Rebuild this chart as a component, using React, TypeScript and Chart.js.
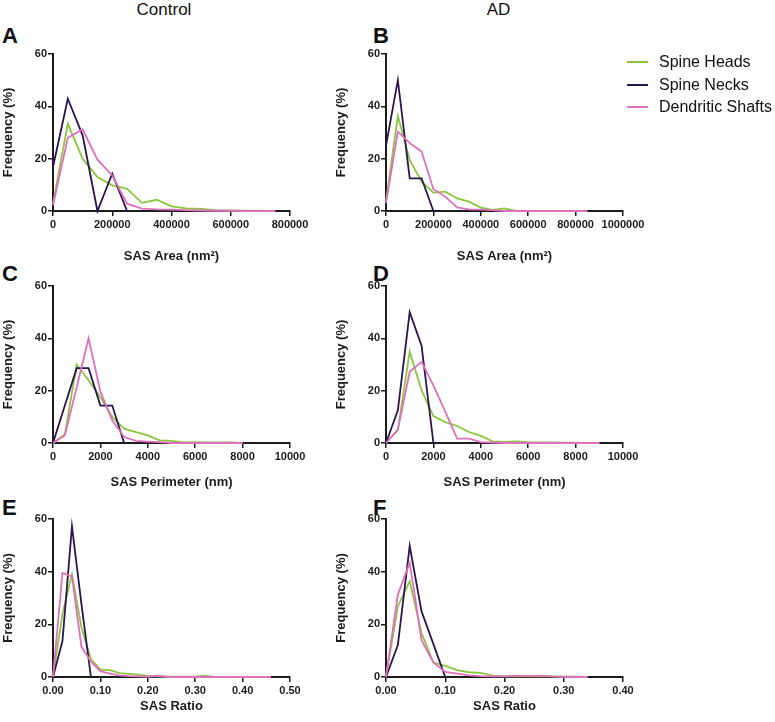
import React, { useEffect, useRef } from "react";
import { Chart, registerables } from "chart.js";

Chart.register(...registerables);

const FONT = "'Liberation Sans', Arial, Helvetica, sans-serif";
const SERIES = ["Spine Heads", "Spine Necks", "Dendritic Shafts"];
const COLORS = ["#8cc63f", "#2b1551", "#e06fbe"];
const COLUMN_TITLES = ["Control", "AD"];
const PANEL_LETTERS = ["A", "B", "C", "D", "E", "F"];
const Y_TITLE = "Frequency (%)";
const X_TITLES = ["SAS Area (nm\u00b2)", "SAS Perimeter (nm)", "SAS Ratio"];

// Panel A - Control, SAS Area
const AREA_CTRL_X = [0, 50000, 100000, 150000, 200000, 250000, 300000, 350000, 400000, 450000, 500000, 550000, 600000, 650000, 700000, 750000];
const AREA_CTRL_HEADS = [2.8, 33.4, 20.0, 13.0, 9.8, 8.5, 3.1, 4.3, 1.8, 1.0, 0.8, 0.3, 0.2, 0.1, 0.1, 0];
const AREA_CTRL_NECKS = [16.8, 42.9, 28.9, 0, 14.3, 0];
const AREA_CTRL_SHAFTS = [2.2, 28.0, 31.2, 19.6, 13.6, 2.8, 0.9, 0.6, 0.5, 0.3, 0.2, 0.1, 0.1, 0, 0, 0];

// Panel B - AD, SAS Area
const AREA_AD_X = [0, 50000, 100000, 150000, 200000, 250000, 300000, 350000, 400000, 450000, 500000, 550000, 600000, 650000, 700000, 750000, 800000, 850000];
const AREA_AD_HEADS = [3.6, 36.3, 19.5, 11.2, 7.0, 7.4, 4.8, 3.6, 1.3, 0.4, 1.0, 0, 0, 0];
const AREA_AD_NECKS = [25.0, 50.0, 12.5, 12.5, 0];
const AREA_AD_SHAFTS = [3.0, 30.3, 26.0, 22.7, 8.3, 5.5, 1.4, 0.6, 0.5, 0.3, 0, 0, 0, 0, 0, 0, 0, 0];

// Panel C - Control, SAS Perimeter
const PERIM_CTRL_X = [0, 500, 1000, 1500, 2000, 2500, 3000, 3500, 4000, 4500, 5000, 5500, 6000, 6500, 7000, 7500, 8000];
const PERIM_CTRL_HEADS = [0, 3.3, 29.9, 24.0, 17.5, 10.0, 5.5, 4.2, 2.9, 1.0, 0.8, 0.2, 0.3, 0.2, 0.2, 0.2, 0];
const PERIM_CTRL_NECKS = [0, 14.3, 28.6, 28.6, 14.3, 14.3, 0];
const PERIM_CTRL_SHAFTS = [0, 2.9, 21.3, 40.0, 19.6, 8.7, 2.3, 0.8, 0.5, 0.3, 0, 0, 0, 0, 0, 0, 0];

// Panel D - AD, SAS Perimeter
const PERIM_AD_X = [0, 500, 1000, 1500, 2000, 2500, 3000, 3500, 4000, 4500, 5000, 5500, 6000, 6500, 7000, 7500, 8000, 8500, 9000];
const PERIM_AD_HEADS = [0, 4.9, 34.9, 20.2, 10.3, 8.0, 6.5, 4.2, 2.7, 0.6, 0.4, 0.6, 0.3, 0.2, 0.2, 0.1, 0.1, 0, 0];
const PERIM_AD_NECKS = [0, 12.5, 50.0, 37.2, 0];
const PERIM_AD_SHAFTS = [0, 5.1, 27.2, 31.0, 22.0, 12.0, 1.7, 1.7, 0.3, 0.2, 0, 0, 0, 0, 0, 0, 0, 0, 0];

// Panel E - Control, SAS Ratio
const RATIO_CTRL_X = [0, 0.02, 0.04, 0.06, 0.08, 0.1, 0.12, 0.14, 0.16, 0.18, 0.2, 0.22, 0.24, 0.26, 0.28, 0.3, 0.32, 0.34, 0.36, 0.38, 0.4, 0.42, 0.44, 0.46];
const RATIO_CTRL_HEADS = [0, 24.0, 39.0, 18.8, 6.8, 2.8, 2.6, 1.5, 1.2, 0.9, 0.3, 0.2, 0.1, 0.1, 0.1, 0.1, 0.5, 0];
const RATIO_CTRL_NECKS = [0, 13.7, 57.2, 27.7, 0];
const RATIO_CTRL_SHAFTS = [0, 39.5, 38.2, 11.5, 5.8, 2.2, 1.3, 0.6, 0.3, 0.2, 0.1, 0.5, 0.1, 0, 0, 0, 0, 0, 0, 0, 0, 0, 0, 0];

// Panel F - AD, SAS Ratio
const RATIO_AD_X = [0, 0.02, 0.04, 0.06, 0.08, 0.1, 0.12, 0.14, 0.16, 0.18, 0.2, 0.22, 0.24, 0.26, 0.28, 0.3, 0.32, 0.34];
const RATIO_AD_HEADS = [0, 26.8, 36.4, 16.6, 5.5, 4.2, 2.6, 1.8, 1.6, 0.5, 0.2, 0.2, 0.2, 0.3, 0.2, 0.1, 0.1, 0];
const RATIO_AD_NECKS = [0, 12.1, 49.8, 24.9, 12.5, 0];
const RATIO_AD_SHAFTS = [0, 31.3, 43.4, 14.0, 5.5, 1.9, 1.3, 0.6, 0.3, 0.2, 0.2, 0.5, 0.3, 0.5, 0.2, 0.1, 0, 0];

const Y_MAX = 60;
const Y_STEP = 20;

type PanelProps = {
  left: number;
  top: number;
  plotH: number;
  axisH: number;
  xMax: number;
  xStep: number;
  decimals: number;
  xTitle: string;
  xs: number[];
  heads: number[];
  necks: number[];
  shafts: number[];
};

const CANVAS_W = 320;
const PAD_TOP = 14;
const PAD_RIGHT = 30;
const Y_AXIS_W = 53;
const INK = "#1c1c1c";

function Panel(p: PanelProps) {
  const ref = useRef<HTMLCanvasElement | null>(null);
  const H = PAD_TOP + p.plotH + p.axisH;
  useEffect(() => {
    const toPts = (ys: number[]) => ys.map((y, i) => ({ x: p.xs[i], y }));
    const common = {
      borderWidth: 1.8,
      pointRadius: 0,
      pointHoverRadius: 0,
      tension: 0,
      fill: false,
      clip: false as any,
    };
    const chart = new Chart(ref.current as HTMLCanvasElement, {
      type: "line",
      data: {
        datasets: [
          { ...common, label: SERIES[0], data: toPts(p.heads), borderColor: COLORS[0], backgroundColor: COLORS[0], order: 2 },
          { ...common, label: SERIES[1], data: toPts(p.necks), borderColor: COLORS[1], backgroundColor: COLORS[1], order: 1 },
          { ...common, label: SERIES[2], data: toPts(p.shafts), borderColor: COLORS[2], backgroundColor: COLORS[2], order: 0 },
        ],
      },
      options: {
        responsive: false,
        maintainAspectRatio: false,
        animation: false,
        layout: { padding: { top: PAD_TOP, right: PAD_RIGHT, left: 0, bottom: 0 } },
        plugins: { legend: { display: false }, tooltip: { enabled: false } },
        scales: {
          x: {
            type: "linear",
            min: 0,
            max: p.xMax,
            afterFit: (s: any) => {
              s.height = p.axisH;
            },
            ticks: {
              stepSize: p.xStep,
              autoSkip: false,
              maxRotation: 0,
              padding: 2,
              color: INK,
              font: { family: FONT, size: 11, weight: "bold" },
              callback: (v: any) => Number(v).toFixed(p.decimals),
            },
            grid: {
              display: true,
              drawOnChartArea: false,
              drawTicks: true,
              tickLength: 5,
              color: INK,
              lineWidth: 1.5,
            },
            border: { display: true, color: INK, width: 2 },
            title: {
              display: true,
              text: p.xTitle,
              color: INK,
              padding: 0,
              font: { family: FONT, size: 13, weight: "bold" },
            },
          },
          y: {
            type: "linear",
            min: 0,
            max: Y_MAX,
            afterFit: (s: any) => {
              s.width = Y_AXIS_W;
            },
            ticks: {
              stepSize: Y_STEP,
              padding: 1,
              color: INK,
              font: { family: FONT, size: 11, weight: "bold" },
              callback: (v: any) => String(v),
            },
            grid: {
              display: true,
              drawOnChartArea: false,
              drawTicks: true,
              tickLength: 5,
              color: INK,
              lineWidth: 1.5,
            },
            border: { display: true, color: INK, width: 2 },
            title: {
              display: true,
              text: Y_TITLE,
              color: INK,
              padding: { top: 1, bottom: 0 },
              font: { family: FONT, size: 13, weight: "bold" },
            },
          },
        },
      } as any,
    });
    return () => chart.destroy();
  }, []);
  return (
    <canvas
      ref={ref}
      width={CANVAS_W}
      height={H}
      style={{ position: "absolute", left: p.left, top: p.top, width: CANVAS_W, height: H }}
    />
  );
}

const LEFT_COL = 0;
const RIGHT_COL = 333;

const letterStyle = (left: number, top: number): React.CSSProperties => ({
  position: "absolute",
  left,
  top,
  fontFamily: FONT,
  fontWeight: "bold",
  fontSize: 22,
  lineHeight: "22px",
  color: "#111",
});

export default function App() {
  return (
    <div
      style={{
        position: "absolute",
        left: 0,
        top: 0,
        width: 775,
        height: 722,
        background: "#fff",
        overflow: "hidden",
      }}
    >
      <div style={{ position: "absolute", left: 64, top: 0.5, width: 200, textAlign: "center", fontFamily: FONT, fontSize: 17, lineHeight: "17px", color: "#111" }}>
        {COLUMN_TITLES[0]}
      </div>
      <div style={{ position: "absolute", left: 398.5, top: 0.5, width: 200, textAlign: "center", fontFamily: FONT, fontSize: 17, lineHeight: "17px", color: "#111" }}>
        {COLUMN_TITLES[1]}
      </div>

      <div style={letterStyle(2, 24.5)}>{PANEL_LETTERS[0]}</div>
      <div style={letterStyle(373, 24.5)}>{PANEL_LETTERS[1]}</div>
      <div style={letterStyle(2, 262.5)}>{PANEL_LETTERS[2]}</div>
      <div style={letterStyle(373, 262.5)}>{PANEL_LETTERS[3]}</div>
      <div style={letterStyle(2, 496.5)}>{PANEL_LETTERS[4]}</div>
      <div style={letterStyle(373, 496.5)}>{PANEL_LETTERS[5]}</div>

      <Panel left={LEFT_COL} top={40} plotH={157} axisH={53} xMax={800000} xStep={200000} decimals={0} xTitle={X_TITLES[0]} xs={AREA_CTRL_X} heads={AREA_CTRL_HEADS} necks={AREA_CTRL_NECKS} shafts={AREA_CTRL_SHAFTS} />
      <Panel left={RIGHT_COL} top={40} plotH={157} axisH={53} xMax={1000000} xStep={200000} decimals={0} xTitle={X_TITLES[0]} xs={AREA_AD_X} heads={AREA_AD_HEADS} necks={AREA_AD_NECKS} shafts={AREA_AD_SHAFTS} />
      <Panel left={LEFT_COL} top={272} plotH={157} axisH={47} xMax={10000} xStep={2000} decimals={0} xTitle={X_TITLES[1]} xs={PERIM_CTRL_X} heads={PERIM_CTRL_HEADS} necks={PERIM_CTRL_NECKS} shafts={PERIM_CTRL_SHAFTS} />
      <Panel left={RIGHT_COL} top={272} plotH={157} axisH={47} xMax={10000} xStep={2000} decimals={0} xTitle={X_TITLES[1]} xs={PERIM_AD_X} heads={PERIM_AD_HEADS} necks={PERIM_AD_NECKS} shafts={PERIM_AD_SHAFTS} />
      <Panel left={LEFT_COL} top={505} plotH={158} axisH={37} xMax={0.5} xStep={0.1} decimals={2} xTitle={X_TITLES[2]} xs={RATIO_CTRL_X} heads={RATIO_CTRL_HEADS} necks={RATIO_CTRL_NECKS} shafts={RATIO_CTRL_SHAFTS} />
      <Panel left={RIGHT_COL} top={505} plotH={158} axisH={37} xMax={0.4} xStep={0.1} decimals={2} xTitle={X_TITLES[2]} xs={RATIO_AD_X} heads={RATIO_AD_HEADS} necks={RATIO_AD_NECKS} shafts={RATIO_AD_SHAFTS} />

      {SERIES.map((name, i) => (
        <div key={name} style={{ position: "absolute", left: 627, top: 54 + i * 22.5, height: 16, width: 148 }}>
          <div style={{ position: "absolute", left: 0, top: 7, width: 21, height: 2, background: COLORS[i] }} />
          <div style={{ position: "absolute", left: 32, top: 0, fontFamily: FONT, fontSize: 16, lineHeight: "16px", color: "#111", whiteSpace: "nowrap" }}>
            {name}
          </div>
        </div>
      ))}
    </div>
  );
}
